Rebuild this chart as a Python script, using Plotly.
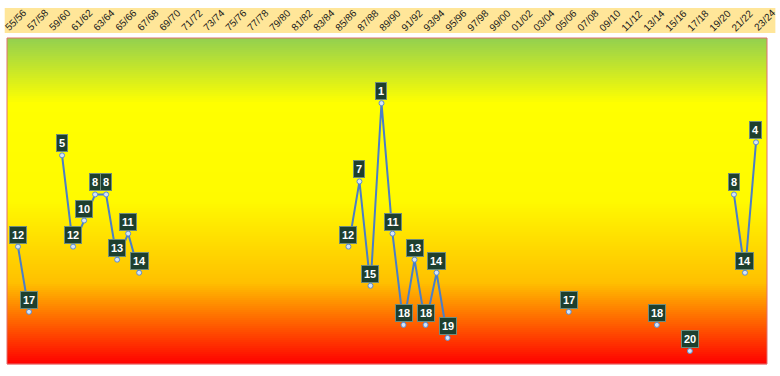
import plotly.graph_objects as go

# ---- data ----
seasons = [f"{(1955+i) % 100:02d}/{(1956+i) % 100:02d}" for i in range(69)]
season_idx = [0, 1, 4, 5, 6, 7, 8, 9, 10, 11,
              30, 31, 32, 33, 34, 35, 36, 37, 38, 39,
              50, 58, 61, 65, 66, 67]
ranks = [12, 17, 5, 12, 10, 8, 8, 13, 11, 14,
         12, 7, 15, 1, 11, 18, 13, 18, 14, 19,
         17, 18, 20, 8, 14, 4]
tick_idx = list(range(0, 69, 2))
tick_text = [seasons[i] for i in tick_idx]

# break line at gaps
xs, ys = [], []
for k, (i, r) in enumerate(zip(season_idx, ranks)):
    if k > 0 and i - season_idx[k-1] > 1:
        xs.append(None); ys.append(None)
    xs.append(i); ys.append(r)

fig = go.Figure()
fig.add_trace(go.Scatter(
    x=xs, y=ys, mode="lines+markers", connectgaps=False,
    line=dict(color="#4A7EC8", width=2),
    marker=dict(size=5, color="#D6E4F5", line=dict(color="#5B8BD0", width=1)),
    hoverinfo="skip", showlegend=False))

shapes = []
# gradient background (paper coords)
stops = [(0.0, (146, 208, 80)), (0.2, (255, 255, 0)), (0.5, (255, 250, 0)),
         (0.75, (255, 192, 0)), (1.0, (255, 0, 0))]
def col(f):
    for (f0, c0), (f1, c1) in zip(stops[:-1], stops[1:]):
        if f0 <= f <= f1:
            t = (f - f0) / (f1 - f0)
            return "rgb(%d,%d,%d)" % tuple(round(a + (b - a) * t) for a, b in zip(c0, c1))
    return "rgb(255,0,0)"
N = 163
for k in range(N):
    f = (k + 0.5) / N
    shapes.append(dict(type="rect", xref="paper", yref="paper", x0=0, x1=1,
                       y0=1 - (k + 1) / N - 0.001, y1=1 - k / N,
                       fillcolor=col(f), line=dict(width=0), layer="below"))
# plot border
shapes.append(dict(type="rect", xref="paper", yref="paper", x0=0, x1=1, y0=0, y1=1,
                   line=dict(color="#E07070", width=1), layer="above"))
# label band
shapes.append(dict(type="rect", xref="paper", yref="paper", x0=-0.003, x1=1.011,
                   y0=1.015, y1=1.092, fillcolor="#FFE699", line=dict(width=0)))

annotations = []
for i, t in zip(tick_idx, tick_text):
    annotations.append(dict(x=i, y=1, xref="x", yref="paper", text=t, showarrow=False,
                            textangle=-45, yshift=18, xshift=-3, yanchor="middle",
                            font=dict(family="Liberation Sans", size=10, color="#1a1a1a")))
for i, r in zip(season_idx, ranks):
    annotations.append(dict(x=i, y=r, xref="x", yref="y", text=f"<b>{r}</b>", showarrow=False,
                            yanchor="bottom", yshift=3,
                            bgcolor="#1E3F2E", borderpad=2, borderwidth=1, bordercolor="#6E8C7C",
                            font=dict(family="Liberation Sans", size=11, color="white")))

fig.update_layout(
    width=780, height=376, margin=dict(l=7, r=13, t=38, b=12),
    paper_bgcolor="white", plot_bgcolor="rgba(0,0,0,0)",
    xaxis=dict(range=[-1, 68], showticklabels=False, showgrid=False, zeroline=False,
               ticks="", fixedrange=True),
    yaxis=dict(range=[21, -4], showticklabels=False, showgrid=False, zeroline=False,
               ticks="", fixedrange=True),
    shapes=shapes, annotations=annotations, showlegend=False)

fig.write_html("out.html", config={"displayModeBar": False},
               post_script="document.body.style.margin='0';")
